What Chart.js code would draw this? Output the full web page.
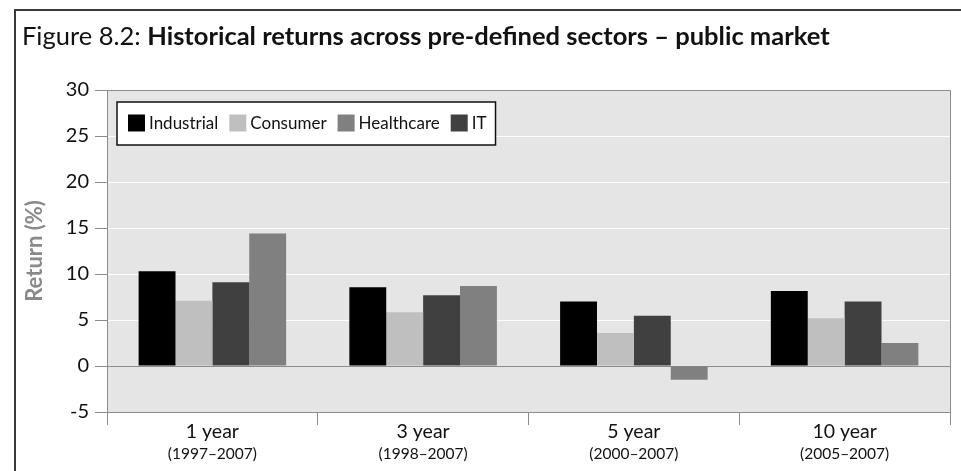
<!DOCTYPE html>
<html><head><meta charset="utf-8">
<script src="https://cdn.jsdelivr.net/npm/chart.js@4"></script>
<style>
html,body{margin:0;padding:0;background:#fff;}
#wrap{position:relative;width:961px;height:471px;}
#frame{position:absolute;left:14px;top:9px;right:0;bottom:0;border-left:2px solid #3a3a3a;border-top:2px solid #3a3a3a;pointer-events:none;}
</style>
</head><body>
<div id="wrap"><canvas id="c"></canvas><div id="frame"></div></div>
<script>
const titlePrefix = 'Figure 8.2: ';
const titleMain = 'Historical returns across pre-defined sectors – public market';
const categories = ['1 year', '3 year', '5 year', '10 year'];
const periods = ['(1997–2007)', '(1998–2007)', '(2000–2007)', '(2005–2007)'];
const industrial = [10.3, 8.55, 7.0, 8.15];
const consumer = [7.1, 5.85, 3.6, 5.2];
const itSector = [9.1, 7.7, 5.45, 7.0];
const healthcare = [14.4, 8.7, -1.5, 2.5];
const legendOrder = ['Industrial', 'Consumer', 'Healthcare', 'IT'];
const yMin = -5, yMax = 30, yStep = 5;
const yTitle = 'Return (%)';

const FONT = 'Lato, "Open Sans", sans-serif';
const GRAY = '#8c8c8c';

const decor = {
  id: 'decor',
  beforeDraw(chart) {
    const {ctx, chartArea: a} = chart;
    ctx.save();
    ctx.fillStyle = '#e5e5e5';
    ctx.fillRect(a.left, a.top, a.right - a.left, a.bottom - a.top);
    ctx.restore();
  },
  afterDatasetsDraw(chart) {
    const {ctx, chartArea: a} = chart;
    ctx.save();
    ctx.strokeStyle = GRAY; ctx.lineWidth = 1;
    ctx.beginPath();
    ctx.moveTo(a.left, a.top + 0.5); ctx.lineTo(a.right + 0.5, a.top + 0.5);
    ctx.moveTo(a.right + 0.5, a.top); ctx.lineTo(a.right + 0.5, a.bottom);
    ctx.stroke();
    ctx.restore();
  },
  afterDraw(chart) {
    const {ctx, chartArea: a} = chart;
    ctx.save();
    // title
    ctx.fillStyle = '#111';
    ctx.textBaseline = 'alphabetic';
    ctx.textAlign = 'left';
    ctx.font = '25.5px ' + FONT;
    ctx.fillText(titlePrefix, 22, 45);
    const w = ctx.measureText(titlePrefix).width;
    ctx.font = 'bold 25.5px ' + FONT;
    ctx.fillText(titleMain, 22 + w, 45);
    // x labels
    const xs = chart.scales.x;
    ctx.textAlign = 'center';
    categories.forEach((c, i) => {
      const x = xs.getPixelForValue(i);
      ctx.font = '19.5px ' + FONT;
      ctx.fillText(c, x, a.bottom + 26);
      ctx.font = '15.5px ' + FONT;
      ctx.fillText(periods[i], x, a.bottom + 47);
    });
    // legend
    const items = legendOrder.map(n => chart.data.datasets.find(d => d.label === n));
    ctx.font = '17px ' + FONT;
    ctx.textAlign = 'left';
    ctx.textBaseline = 'middle';
    const cy = a.top + 33;
    let x = a.left + 21;
    const pos = [];
    items.forEach(d => {
      pos.push(x);
      x += 17 + 4 + ctx.measureText(d.label).width + 11;
    });
    const boxL = a.left + 10, boxR = x - 11 + 9;
    ctx.fillStyle = '#fff';
    ctx.fillRect(boxL, a.top + 12, boxR - boxL, 43);
    ctx.strokeStyle = '#111'; ctx.lineWidth = 1.5;
    ctx.strokeRect(boxL, a.top + 12, boxR - boxL, 43);
    items.forEach((d, i) => {
      ctx.fillStyle = d.backgroundColor;
      ctx.fillRect(pos[i], cy - 8.5, 17, 17);
      ctx.fillStyle = '#111';
      ctx.fillText(d.label, pos[i] + 21, cy + 0.5);
    });
    ctx.restore();
  }
};

new Chart(document.getElementById('c'), {
  type: 'bar',
  data: {
    labels: categories,
    datasets: [
      {label: 'Industrial', data: industrial, backgroundColor: '#000000'},
      {label: 'Consumer', data: consumer, backgroundColor: '#bfbfbf'},
      {label: 'IT', data: itSector, backgroundColor: '#404040'},
      {label: 'Healthcare', data: healthcare, backgroundColor: '#808080'}
    ]
  },
  options: {
    responsive: true,
    maintainAspectRatio: false,
    animation: false,
    layout: {padding: {top: 90, right: 11, bottom: 0, left: 0}},
    datasets: {bar: {categoryPercentage: 0.7, barPercentage: 1.0, borderWidth: 0}},
    plugins: {legend: {display: false}, tooltip: {enabled: false}, title: {display: false}},
    scales: {
      x: {
        afterFit(s) { s.height = 59; },
        ticks: {display: false},
        grid: {drawOnChartArea: false, drawTicks: true, tickLength: 13, color: GRAY, offset: true},
        border: {color: GRAY, width: 1}
      },
      y: {
        min: yMin, max: yMax,
        afterFit(s) { s.width = 107; },
        ticks: {stepSize: yStep, color: '#111', padding: 6, font: {family: FONT, size: 20}},
        grid: {
          color: c => (c.tick && (c.tick.value === 0 || c.tick.value === yMin || c.tick.value === yMax)) ? GRAY : '#ffffff',
          tickColor: GRAY, tickLength: 12, lineWidth: 1
        },
        border: {color: GRAY, width: 1},
        title: {display: true, text: yTitle, color: '#8a8a8a', font: {family: FONT, size: 22, weight: 'bold'}, padding: {top: 22, bottom: 0}}
      }
    }
  },
  plugins: [decor]
});
</script>
</body></html>
